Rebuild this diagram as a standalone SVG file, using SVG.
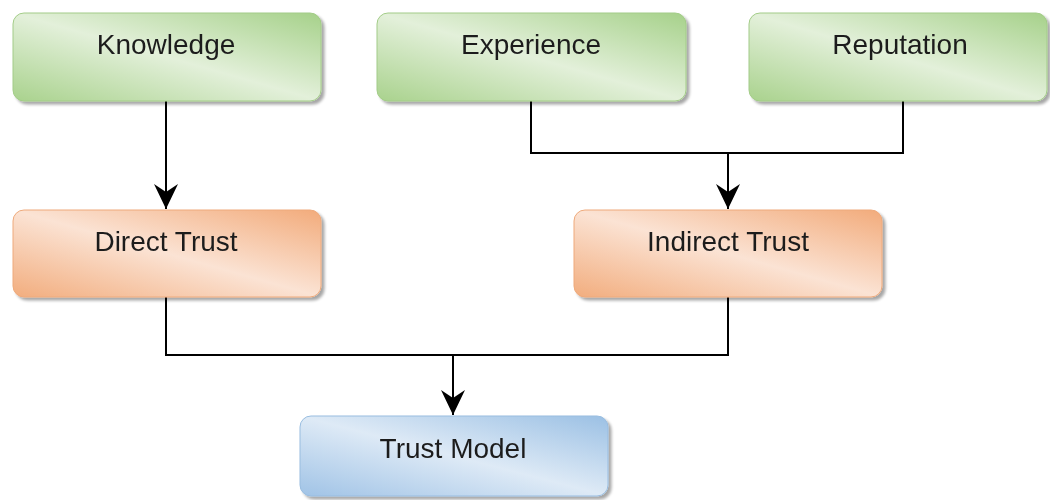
<svg xmlns="http://www.w3.org/2000/svg" width="1050" height="500" viewBox="0 0 1050 500">
  <defs>
    <linearGradient id="gGreen" x1="1" y1="0" x2="0" y2="1">
      <stop offset="0" stop-color="#a6d18a"/>
      <stop offset="0.5" stop-color="#e3f0da"/>
      <stop offset="1" stop-color="#a9d28d"/>
    </linearGradient>
    <linearGradient id="gOrange" x1="1" y1="0" x2="0" y2="1">
      <stop offset="0" stop-color="#f2ab7b"/>
      <stop offset="0.5" stop-color="#fbe3d4"/>
      <stop offset="1" stop-color="#f2ad7e"/>
    </linearGradient>
    <linearGradient id="gBlue" x1="1" y1="0" x2="0" y2="1">
      <stop offset="0" stop-color="#9bc0e4"/>
      <stop offset="0.5" stop-color="#deeaf6"/>
      <stop offset="1" stop-color="#a0c3e6"/>
    </linearGradient>
    <filter id="shadow" x="-5%" y="-10%" width="115%" height="130%">
      <feGaussianBlur in="SourceAlpha" stdDeviation="1.5"/>
      <feOffset dx="3" dy="3" result="b"/>
      <feComponentTransfer><feFuncA type="linear" slope="0.35"/></feComponentTransfer>
      <feMerge><feMergeNode/><feMergeNode in="SourceGraphic"/></feMerge>
    </filter>
    <!-- classic notched arrowhead, drawn pointing along +x -->
    <marker id="arrow" viewBox="0 0 26 26" refX="25" refY="13" markerWidth="26" markerHeight="26" markerUnits="userSpaceOnUse" orient="auto">
      <path d="M25,13 L0,1 L8,13 L0,25 Z" fill="#000"/>
    </marker>
  </defs>
  <style>
    .box { filter: url(#shadow); }
    .green { fill: url(#gGreen); stroke: #a3cc88; stroke-width: 1; }
    .orange { fill: url(#gOrange); stroke: #eeaa7c; stroke-width: 1; }
    .blue { fill: url(#gBlue); stroke: #99bde0; stroke-width: 1; }
    .label { font-family: "Liberation Sans", Arial, sans-serif; font-size: 28px; fill: #1e1e1e; text-anchor: middle; }
    .wire { fill: none; stroke: #000; stroke-width: 2; }
  </style>

  <rect width="1050" height="500" fill="#fff"/>

  <g id="connectors">
    <path class="wire" d="M166,101 V209" marker-end="url(#arrow)"/>
    <path class="wire" d="M531,101 V153 H903 V101"/>
    <path class="wire" d="M728,153 V209" marker-end="url(#arrow)"/>
    <path class="wire" d="M166,297 V355 H728 V297"/>
    <path class="wire" d="M453,355 V415" marker-end="url(#arrow)"/>
  </g>

  <g id="knowledge" class="box">
    <rect class="green" x="13" y="13" width="308" height="88" rx="11"/>
    <text class="label" x="166" y="54">Knowledge</text>
  </g>
  <g id="experience" class="box">
    <rect class="green" x="377" y="13" width="309" height="88" rx="11"/>
    <text class="label" x="531" y="54">Experience</text>
  </g>
  <g id="reputation" class="box">
    <rect class="green" x="749" y="13" width="298" height="88" rx="11"/>
    <text class="label" x="900" y="54">Reputation</text>
  </g>
  <g id="direct-trust" class="box">
    <rect class="orange" x="13" y="210" width="308" height="87" rx="11"/>
    <text class="label" x="166" y="251">Direct Trust</text>
  </g>
  <g id="indirect-trust" class="box">
    <rect class="orange" x="574" y="210" width="308" height="87" rx="11"/>
    <text class="label" x="728" y="251">Indirect Trust</text>
  </g>
  <g id="trust-model" class="box">
    <rect class="blue" x="300" y="416" width="308" height="80" rx="11"/>
    <text class="label" x="453" y="458">Trust Model</text>
  </g>
</svg>
